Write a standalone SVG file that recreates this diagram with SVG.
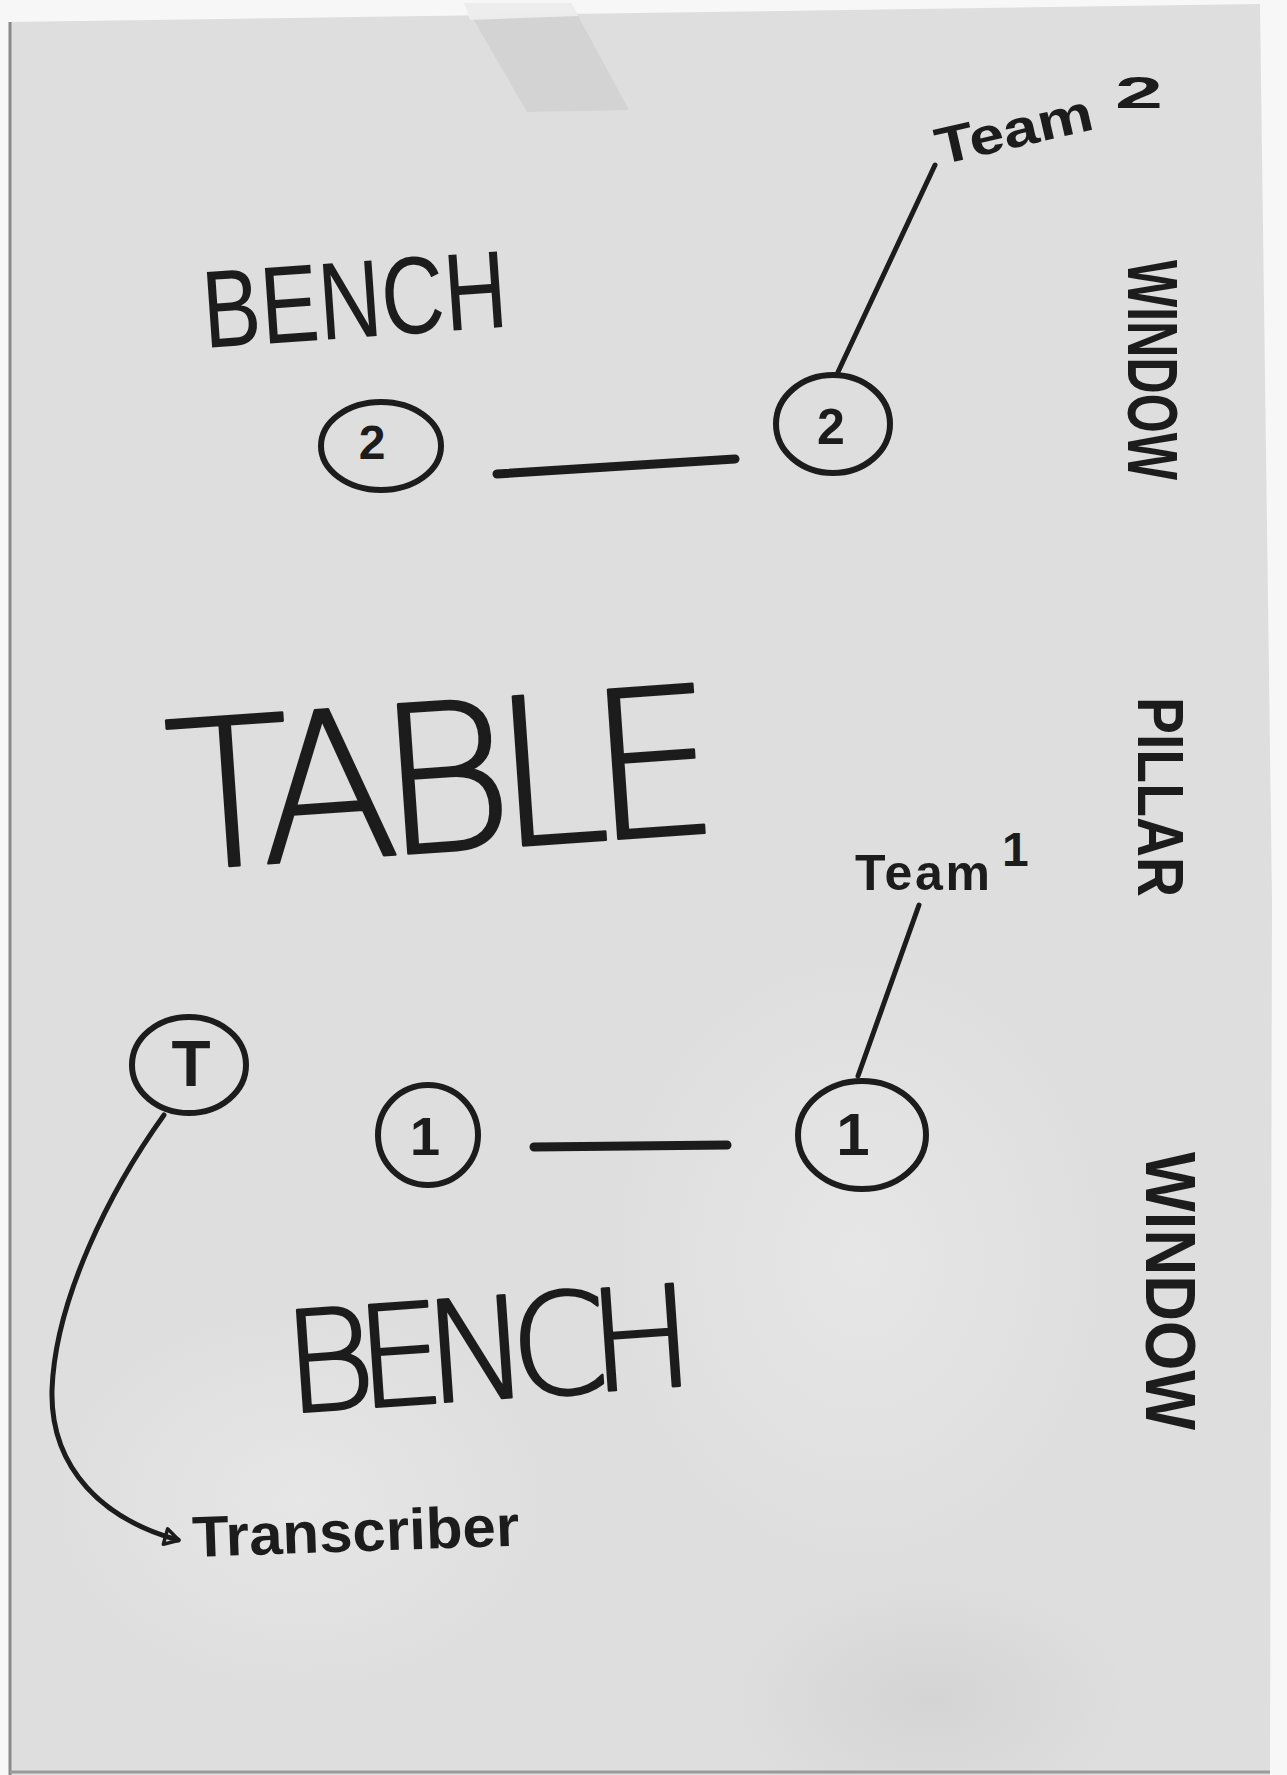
<svg xmlns="http://www.w3.org/2000/svg" width="1287" height="1775" viewBox="0 0 1287 1775">
  <defs>
    <style>
      .ink { fill: #1c1c1c; font-family: "Liberation Sans", Arial, sans-serif; }
      .thin { font-family: "DejaVu Sans", "Liberation Sans", sans-serif; font-weight: 200; stroke: #1c1c1c; stroke-width: 2.5; stroke-linejoin: round; }
      .node { fill: none; stroke: #1c1c1c; stroke-width: 6; }
      .conn { fill: none; stroke: #1c1c1c; stroke-linecap: round; }
      .digit { fill: #1c1c1c; font-family: "Liberation Sans", Arial, sans-serif; font-weight: 700; text-anchor: middle; }
    </style>
    <radialGradient id="shadeA" cx="0.5" cy="0.5" r="0.5">
      <stop offset="0" stop-color="#c8c8c8" stop-opacity="0.45"/>
      <stop offset="1" stop-color="#c8c8c8" stop-opacity="0"/>
    </radialGradient>
    <radialGradient id="shadeB" cx="0.5" cy="0.5" r="0.5">
      <stop offset="0" stop-color="#ececec" stop-opacity="0.6"/>
      <stop offset="1" stop-color="#ececec" stop-opacity="0"/>
    </radialGradient>
    <marker id="openArrow" viewBox="0 0 20 20" refX="16" refY="10" markerWidth="20" markerHeight="20" markerUnits="userSpaceOnUse" orient="auto">
      <path d="M3,2 L3,18 L17,10 Z" fill="none" stroke="#1c1c1c" stroke-width="3.5" stroke-linejoin="round"/>
    </marker>
  </defs>

  <!-- scanner background and paper -->
  <rect x="0" y="0" width="1287" height="1775" fill="#f7f7f7"/>
  <polygon points="10,22 1260,4 1272,900 1270,1775 10,1775" fill="#dedede"/>
  <ellipse cx="860" cy="1260" rx="260" ry="320" fill="url(#shadeB)"/>
  <ellipse cx="930" cy="1700" rx="200" ry="120" fill="url(#shadeA)"/>
  <ellipse cx="300" cy="1500" rx="260" ry="200" fill="url(#shadeB)"/>
  <line x1="10" y1="22" x2="10" y2="1775" stroke="#8a8a8a" stroke-width="3"/>
  <line x1="10" y1="1772" x2="1270" y2="1772" stroke="#9a9a9a" stroke-width="3"/>
  <!-- tape -->
  <polygon points="464,3 571,3 629,110 527,112" fill="#cfcfcf" opacity="0.75"/>
  <polygon points="464,3 571,3 578,16 470,20" fill="#eeeeee" opacity="0.9"/>

  <!-- connectors -->
  <g id="connectors">
    <line class="conn" x1="497" y1="474" x2="735" y2="459" stroke-width="9"/>
    <line class="conn" x1="534" y1="1147" x2="727" y2="1145" stroke-width="9"/>
    <line class="conn" x1="838" y1="372" x2="935" y2="165" stroke-width="5"/>
    <line class="conn" x1="858" y1="1076" x2="919" y2="905" stroke-width="5"/>
    <path class="conn" d="M164,1115 C110,1190 55,1300 52,1390 C50,1470 105,1520 178,1540" stroke-width="5" marker-end="url(#openArrow)"/>
  </g>

  <!-- seat nodes -->
  <g id="seat-team2-left">
    <ellipse class="node" cx="381" cy="446" rx="60" ry="44"/>
    <text class="digit" x="372" y="459" font-size="48">2</text>
  </g>
  <g id="seat-team2-right">
    <ellipse class="node" cx="833" cy="424" rx="57" ry="49"/>
    <text class="digit" x="831" y="444" font-size="50">2</text>
  </g>
  <g id="seat-transcriber">
    <ellipse class="node" cx="189" cy="1065" rx="57" ry="48"/>
    <text class="digit" x="191" y="1086" font-size="64" font-weight="400">T</text>
  </g>
  <g id="seat-team1-left">
    <ellipse class="node" cx="428" cy="1135" rx="50" ry="50"/>
    <text class="digit" x="425" y="1155" font-size="54">1</text>
  </g>
  <g id="seat-team1-right">
    <ellipse class="node" cx="862" cy="1135" rx="64" ry="54"/>
    <text class="digit" x="853" y="1155" font-size="60">1</text>
  </g>

  <!-- labels -->
  <g id="label-bench-top">
    <text class="ink" x="205" y="348" font-size="110" textLength="305" lengthAdjust="spacingAndGlyphs" transform="rotate(-4 205 348)">BENCH</text>
  </g>
  <g id="label-table">
    <text class="ink thin" x="172" y="870" font-size="205" textLength="552" transform="rotate(-4 172 870)">TABLE</text>
  </g>
  <g id="label-bench-bottom">
    <text class="ink thin" x="287" y="1413" font-size="140" textLength="411" transform="rotate(-4 287 1413)">BENCH</text>
  </g>
  <g id="label-team2">
    <text class="ink" x="940" y="165" font-size="52" font-weight="700" textLength="160" lengthAdjust="spacingAndGlyphs" transform="rotate(-13 940 165)">Team</text>
    <text class="ink" x="1115" y="108" font-size="44" font-weight="700" textLength="48" lengthAdjust="spacingAndGlyphs">2</text>
  </g>
  <g id="label-team1">
    <text class="ink" font-weight="700"><tspan x="855" y="890" font-size="50" textLength="135">Team</tspan><tspan x="1002" y="866" font-size="48">1</tspan></text>
  </g>
  <g id="label-transcriber">
    <text class="ink" x="193" y="1557" font-size="58" font-weight="700" textLength="327" lengthAdjust="spacingAndGlyphs" transform="rotate(-2 193 1557)">Transcriber</text>
  </g>
  <g id="label-window-top">
    <text class="ink" font-size="70" font-weight="700" textLength="220" lengthAdjust="spacingAndGlyphs" transform="translate(1128 260) rotate(90)">WINDOW</text>
  </g>
  <g id="label-pillar">
    <text class="ink" font-size="64" font-weight="700" textLength="200" lengthAdjust="spacingAndGlyphs" transform="translate(1138 697) rotate(90)">PILLAR</text>
  </g>
  <g id="label-window-bottom">
    <text class="ink" font-size="70" font-weight="700" textLength="278" lengthAdjust="spacingAndGlyphs" transform="translate(1146 1152) rotate(90)">WINDOW</text>
  </g>
</svg>
